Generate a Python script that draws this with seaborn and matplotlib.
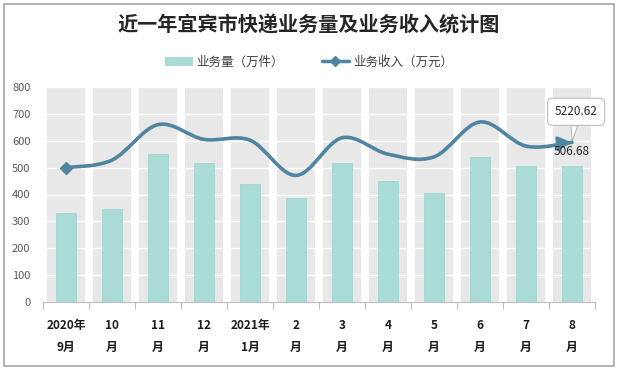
import numpy as np
import pandas as pd
import matplotlib
matplotlib.use("Agg")
import matplotlib.pyplot as plt
import seaborn as sns
from matplotlib.path import Path
from matplotlib.patches import PathPatch, Patch, Rectangle
from matplotlib.lines import Line2D

# ---- data ----
months = ["2020年\n9月", "10\n月", "11\n月", "12\n月", "2021年\n1月", "2\n月",
          "3\n月", "4\n月", "5\n月", "6\n月", "7\n月", "8\n月"]
volume = [330, 345, 550, 517, 440, 386, 517, 449, 404, 538, 506, 506.68]   # 业务量（万件）
revenue = [500, 528, 660, 605, 602, 471, 611, 550, 540, 670, 580, 594]      # 业务收入（万元）
y_ticks = [0, 100, 200, 300, 400, 500, 600, 700, 800]
callout_text = "5220.62"
bar_label_text = "506.68"
title = "近一年宜宾市快递业务量及业务收入统计图"
legend_labels = ["业务量（万件）", "业务收入（万元）"]

sns.set_theme(style="white")
plt.rcParams['font.family'] = ['Noto Sans CJK SC', 'DejaVu Sans']

BAR_C = "#a9dcd7"
LINE_C = "#4f85a1"
BAND_C = "#e8e8e8"

fig = plt.figure(figsize=(6.18, 3.70), dpi=100)
ax = fig.add_axes([43/618, 1 - 302/370, 552/618, 215/370])

df = pd.DataFrame({"month": months, "volume": volume})
x = np.arange(len(months))
ymax = y_ticks[-1]

# background bands
ax.bar(x, [ymax] * len(x), width=0.83, color=BAND_C, zorder=0, linewidth=0)
# white gridlines over bands
for t in y_ticks[1:]:
    ax.axhline(t, color="white", lw=1.0, zorder=1)

sns.barplot(data=df, x="month", y="volume", color=BAR_C, width=0.42,
            saturation=1, ax=ax, zorder=2, edgecolor="#9fd3ce", linewidth=0.5)

# smooth line (cubic bezier through data points, Catmull-Rom style)
P = np.column_stack([x.astype(float), np.array(revenue, dtype=float)])
n = len(P)
verts = [tuple(P[0])]
codes = [Path.MOVETO]
last_c2 = None
for i in range(n - 1):
    p0 = P[i - 1] if i > 0 else P[i]
    p1 = P[i]
    p2 = P[i + 1]
    p3 = P[i + 2] if i + 2 < n else P[i + 1]
    c1 = p1 + (p2 - p0) / 6.0
    c2 = p2 - (p3 - p1) / 6.0
    verts += [tuple(c1), tuple(c2), tuple(p2)]
    codes += [Path.CURVE4] * 3
    last_c2 = c2
path = Path(verts, codes)
ax.add_patch(PathPatch(path, fc="none", ec=LINE_C, lw=2.6, zorder=4,
                       capstyle="round", joinstyle="round"))
# start diamond
ax.plot([P[0, 0]], [P[0, 1]], marker="D", ms=6, color=LINE_C, zorder=5, ls="none")
# end arrow head
ax.annotate("", xy=tuple(P[-1]), xytext=tuple(P[-1] - (P[-1] - last_c2) * 0.4),
            arrowprops=dict(arrowstyle="-|>,head_length=0.7,head_width=0.35",
                            color=LINE_C, lw=2.0, shrinkA=0, shrinkB=0), zorder=5)

# callout label (behind the line)
ax.annotate(callout_text, xy=tuple(P[-1]), xytext=(3, 22), textcoords="offset points",
            ha="center", va="center", fontsize=8.5, color="#262626",
            bbox=dict(boxstyle="round,pad=0.6,rounding_size=0.4", fc="white",
                      ec="#bfbfbf", lw=0.8),
            arrowprops=dict(arrowstyle="wedge,tail_width=0.6,shrink_factor=0.4",
                            fc="white", ec="#bfbfbf", lw=0.8, shrinkA=0, shrinkB=0),
            zorder=3.5)
# bar value label
ax.annotate(bar_label_text, xy=(x[-1], volume[-1]), xytext=(0, 10),
            textcoords="offset points", ha="center", va="center",
            fontsize=8.5, color="#262626", zorder=6)

ax.set_xlim(-0.5, len(months) - 0.5)
ax.set_ylim(0, ymax)
ax.set_yticks(y_ticks)
ax.set_yticklabels([str(t) for t in y_ticks], fontsize=8, color="#595959")
ax.tick_params(axis="y", length=0, pad=9)
ax.set_xticks(x)
ax.set_xticklabels(months, fontsize=8.5, fontweight="bold", color="#1a1a1a",
                   linespacing=1.9)
ax.set_xticks(np.arange(-0.5, len(months), 1.0), minor=True)
ax.tick_params(axis="x", which="major", length=0, pad=12)
ax.tick_params(axis="x", which="minor", length=5, color="#bfbfbf", width=0.8, bottom=True)
ax.set_xlabel("")
ax.set_ylabel("")
for s in ["top", "right", "left"]:
    ax.spines[s].set_visible(False)
ax.spines["bottom"].set_color("#bfbfbf")
ax.spines["bottom"].set_linewidth(0.8)
ax.spines["bottom"].set_zorder(3)
ax.set_facecolor("white")

# title
fig.text(0.5, 1 - 25/370, title, ha="center", va="center", fontsize=14.5,
         fontweight="bold", color="#262626")

# legend
handles = [Patch(facecolor=BAR_C, edgecolor="none"),
           Line2D([0], [0], color=LINE_C, lw=2.5, marker="D", ms=5)]
fig.legend(handles, legend_labels, loc="center", bbox_to_anchor=(0.5, 1 - 62/370),
           ncol=2, frameon=False, fontsize=9, handlelength=2.2, columnspacing=3.0,
           handletextpad=0.3, labelcolor="#404040")

# outer border
fig.add_artist(Rectangle((4/618, 4/370), 610/618, 362/370, transform=fig.transFigure,
                         fill=False, ec="#a6a6a6", lw=1.2))

fig.savefig("out.png", dpi=100)
